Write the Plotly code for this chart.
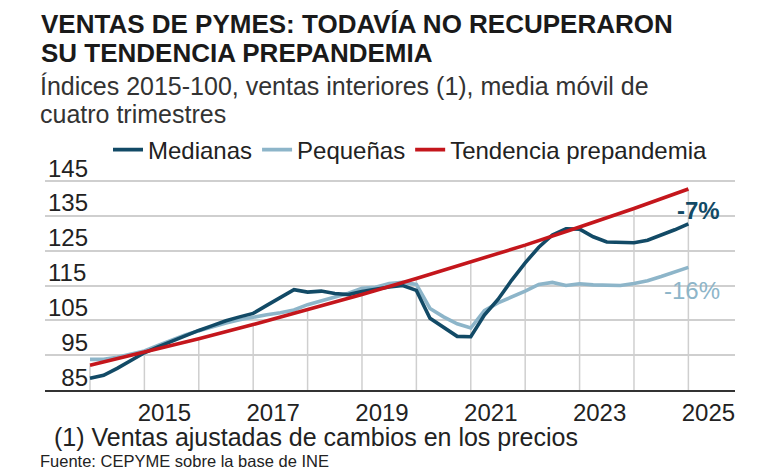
import plotly.graph_objects as go

# ---------------- data ----------------
quarters = [f"{2014 + i // 4}T{i % 4 + 1}" for i in range(45)]  # 2014T1 ... 2025T1
x_q = [int(q[:4]) + (int(q[-1]) - 1) / 4 for q in quarters]

medianas = [88.4, 89.2, 91.2, 93.5, 95.7, 97.4, 99.0, 100.6, 102.1, 103.5, 104.9, 106.0,
            107.0, 109.3, 111.6, 113.8, 113.1, 113.4, 112.7, 112.4, 113.3, 114.0, 114.6, 115.0,
            113.6, 105.6, 103.0, 100.4, 100.3, 106.5, 111.0, 116.5, 121.5, 126.0, 129.5, 131.3,
            131.2, 129.0, 127.5, 127.3, 127.3, 128.0, 129.4, 131.0, 132.7]

pequenas = [93.8, 93.8, 94.4, 95.2, 96.2, 97.8, 99.4, 100.8, 102.0, 103.2, 104.2, 105.2,
            106.0, 106.6, 107.2, 108.0, 109.5, 110.6, 111.6, 112.8, 114.2, 114.5, 115.6, 115.9,
            115.3, 108.4, 106.0, 104.0, 102.8, 107.8, 110.0, 111.6, 113.4, 115.3, 115.9, 115.0,
            115.5, 115.2, 115.0, 115.0, 115.6, 116.4, 117.6, 118.9, 120.2]

trend_years = [2014, 2015, 2016, 2017, 2018, 2019, 2020, 2021, 2022, 2023, 2024, 2025]
tendencia = [92.1, 95.8, 99.7, 103.8, 108.0, 112.4, 117.0, 121.7, 126.6, 131.8, 137.1, 142.7]

y_ticks = [85, 95, 105, 115, 125, 135, 145]
y_tick_text = [str(v).rjust(3, "\u2007") for v in y_ticks]  # figure space keeps labels right-aligned
x_tick_years = [2015, 2017, 2019, 2021, 2023, 2025]
x_tick_text = [str(y) for y in x_tick_years]

end_labels = ["-7%", "-16%"]

# ---------------- style ----------------
C_MED = "#124a66"
C_PEQ = "#8db5c9"
C_TREND = "#c4161c"
C_GRID = "#cfcfcf"
FONT = "Liberation Sans, Arial, sans-serif"

fig = go.Figure()

# vertical grid lines from the axis up to the trend line
gx, gy = [], []
for yr, tv in zip(trend_years, tendencia):
    gx += [yr, yr, None]
    gy += [y_ticks[0], tv, None]
fig.add_trace(go.Scatter(x=gx, y=gy, mode="lines", line=dict(color=C_GRID, width=1.5),
                         showlegend=False, hoverinfo="skip"))

fig.add_trace(go.Scatter(x=x_q, y=pequenas, mode="lines", name="Pequeñas",
                         line=dict(color=C_PEQ, width=3.6), legendrank=2))
fig.add_trace(go.Scatter(x=x_q, y=medianas, mode="lines", name="Medianas",
                         line=dict(color=C_MED, width=3.6), legendrank=1))
fig.add_trace(go.Scatter(x=trend_years, y=tendencia, mode="lines", name="Tendencia prepandemia",
                         line=dict(color=C_TREND, width=3.6), legendrank=3))

# the page keeps its default 8px body margin, so the figure is 8px smaller than the window
OFF = 8
W, H = 770 - OFF, 470 - OFF
L, T = 45 - OFF, 180 - OFF          # plot area starts at window px (45, 180)
R, B = 770 - 735, 470 - 390         # and ends at window px (735, 390)
pw, ph = W - L - R, H - T - B


def px_x(px):  # window pixel -> paper x
    return (px - OFF - L) / pw


def px_y(py):  # window pixel -> paper y
    return (H - B - (py - OFF)) / ph


fig.update_layout(
    width=W, height=H,
    margin=dict(l=L, r=R, t=T, b=B),
    paper_bgcolor="white", plot_bgcolor="white",
    font=dict(family=FONT, size=24, color="#222222"),
    showlegend=True,
    legend=dict(orientation="h", x=px_x(108), y=px_y(150), xanchor="left", yanchor="middle",
                font=dict(size=24, color="#222222"), bgcolor="rgba(0,0,0,0)",
                itemwidth=30, tracegroupgap=0),
    xaxis=dict(range=[2013.173, 2025.857], tickmode="array", tickvals=x_tick_years,
               ticktext=x_tick_text, showgrid=False, zeroline=False, showline=True,
               linecolor="#333333", linewidth=1.5, ticks="", ticklabelshift=20,
               tickfont=dict(size=24, color="#222222")),
    yaxis=dict(range=[85, 145.3], tickmode="array", tickvals=y_ticks, ticktext=y_tick_text,
               showgrid=True, gridcolor=C_GRID, gridwidth=1.5, zeroline=False,
               showline=False, ticks="", ticklabelposition="inside top",
               ticklabelshift=4, ticklabeloverflow="allow",
               tickfont=dict(size=24, color="#222222")),
)

annotations = [
    dict(text="<b>VENTAS DE PYMES: TODAVÍA NO RECUPERARON</b>", x=px_x(39), y=px_y(24),
         font=dict(size=26, color="#1a1a1a")),
    dict(text="<b>SU TENDENCIA PREPANDEMIA</b>", x=px_x(39), y=px_y(53),
         font=dict(size=26, color="#1a1a1a")),
    dict(text="Índices 2015-100, ventas interiores (1), media móvil de", x=px_x(38), y=px_y(86),
         font=dict(size=25, color="#333333")),
    dict(text="cuatro trimestres", x=px_x(38), y=px_y(114),
         font=dict(size=25, color="#333333")),
    dict(text="(1) Ventas ajustadas de cambios en los precios", x=px_x(52), y=px_y(437),
         font=dict(size=25, color="#222222")),
    dict(text="Fuente: CEPYME sobre la base de INE", x=px_x(38), y=px_y(461),
         font=dict(size=16.5, color="#222222")),
]
for a in annotations:
    a.update(xref="paper", yref="paper", xanchor="left", yanchor="middle", showarrow=False)
    fig.add_annotation(**a)

# end-of-line labels
fig.add_annotation(text=f"<b>{end_labels[0]}</b>", x=x_q[-1], y=medianas[-1], xref="x", yref="y",
                   xanchor="right", yanchor="middle", xshift=34, yshift=13, showarrow=False,
                   font=dict(size=24, color=C_MED))
fig.add_annotation(text=end_labels[1], x=x_q[-1], y=pequenas[-1], xref="x", yref="y",
                   xanchor="right", yanchor="middle", xshift=34, yshift=-23, showarrow=False,
                   font=dict(size=24, color=C_PEQ))

fig.write_html("out.html", config={"displayModeBar": False})
